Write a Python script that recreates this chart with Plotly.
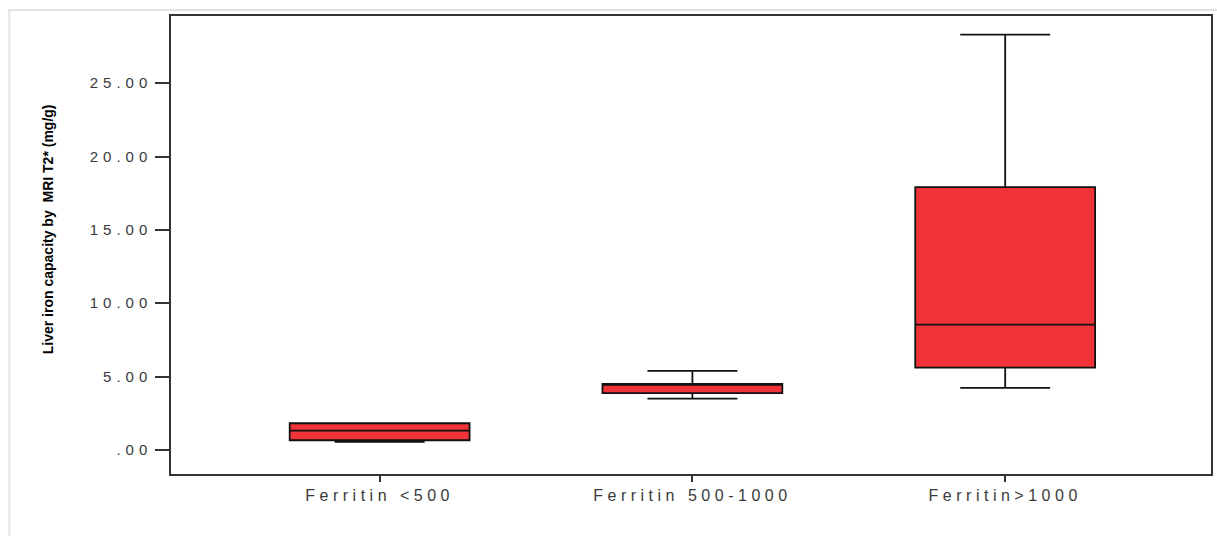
import plotly.graph_objects as go

categories = ["Ferritin <500", "Ferritin 500-1000", "Ferritin>1000"]
lower_whisker = [0.55, 3.50, 4.23]
q1_values = [0.66, 3.87, 5.61]
median_values = [1.32, 4.45, 8.54]
q3_values = [1.82, 4.50, 17.91]
upper_whisker = [1.82, 5.39, 28.31]
y_tick_values = [0, 5, 10, 15, 20, 25]
y_tick_labels = [".00", "5.00", "10.00", "15.00", "20.00", "25.00"]
y_title = "Liver iron capacity by  MRI T2* (mg/g)"


def spaced(text, px):
    safe = text.replace("&", "&amp;").replace("<", "&lt;").replace(">", "&gt;")
    return f'<span style="letter-spacing:{px}px">{safe}</span>'


W, H = 1217, 536
L, T = 171, 16
R = W - 1213
B = H - 474
plot_w = W - L - R
plot_h = H - T - B


def px_to_paper_x(px):
    return (px - L) / plot_w


def px_to_paper_y(py):
    return (H - B - py) / plot_h


fig = go.Figure()
fig.add_trace(go.Box(
    x=categories,
    q1=q1_values,
    median=median_values,
    q3=q3_values,
    lowerfence=lower_whisker,
    upperfence=upper_whisker,
    boxpoints=False,
    width=0.575,
    whiskerwidth=0.5,
    fillcolor="#EF3339",
    line=dict(color="#111111", width=1.8),
    showlegend=False,
    hoverinfo="skip",
))

fig.update_layout(
    width=W, height=H,
    margin=dict(l=L, r=R, t=T, b=B, pad=0),
    paper_bgcolor="white",
    plot_bgcolor="white",
    xaxis=dict(
        type="category",
        range=[-0.667, 2.658],
        tickmode="array",
        tickvals=categories,
        ticktext=[spaced(c, 4.5) for c in categories],
        ticks="outside", ticklen=6, tickwidth=1.5, tickcolor="#333333",
        showline=True, linecolor="#333333", linewidth=1.5, mirror=True,
        showgrid=False, zeroline=False,
        tickfont=dict(family="Liberation Sans, Arial", size=16, color="#3a3a3a"),
    ),
    yaxis=dict(
        range=[-1.64, 29.58],
        tickmode="array",
        tickvals=y_tick_values,
        ticktext=[spaced(t, 5) for t in y_tick_labels],
        ticks="outside", ticklen=14, tickwidth=1.5, tickcolor="#333333",
        showline=True, linecolor="#333333", linewidth=1.5, mirror=True,
        showgrid=False, zeroline=False,
        tickfont=dict(family="Liberation Sans, Arial", size=15, color="#3a3a3a"),
    ),
    annotations=[dict(
        text=y_title,
        xref="paper", yref="paper",
        x=px_to_paper_x(48), y=px_to_paper_y(229),
        xanchor="center", yanchor="middle",
        textangle=-90, showarrow=False,
        font=dict(family="Liberation Sans, Arial", size=14, weight="bold", color="black"),
    )],
    shapes=[dict(
        type="rect", xref="paper", yref="paper", layer="below",
        x0=px_to_paper_x(9), x1=1.5,
        y0=-0.5, y1=px_to_paper_y(10),
        line=dict(color="#E2E2E2", width=2),
        fillcolor="rgba(0,0,0,0)",
    )],
)

fig.write_html(
    "out.html",
    config={"displayModeBar": False},
    post_script="document.body.style.margin='0';document.body.style.overflow='hidden';",
)
